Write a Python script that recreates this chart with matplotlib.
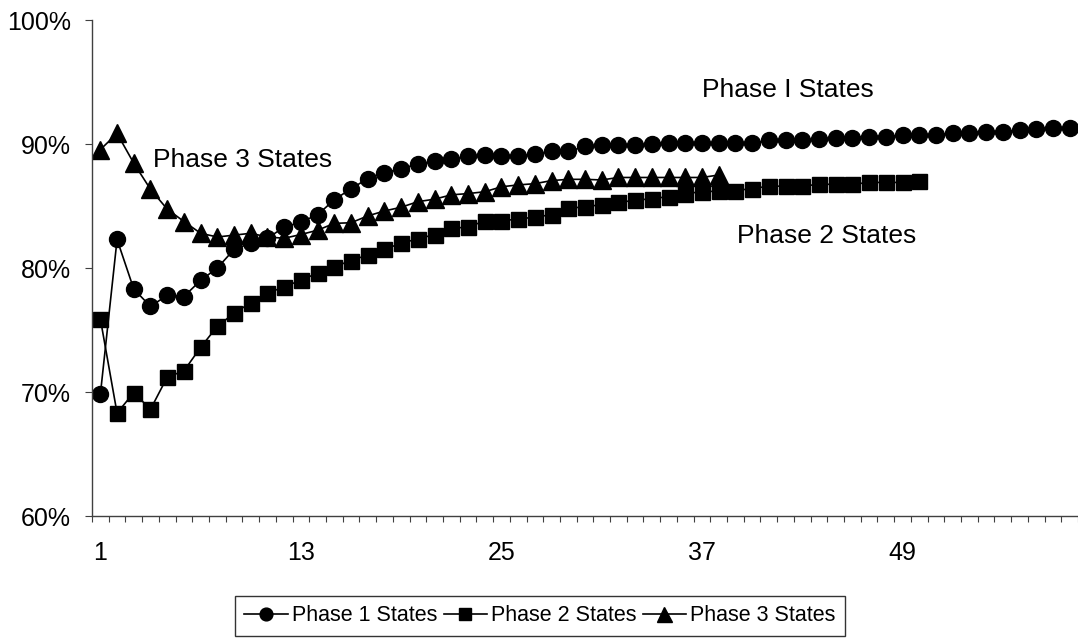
import matplotlib
matplotlib.use("Agg")
import matplotlib.pyplot as plt
from matplotlib.ticker import PercentFormatter

plt.rcParams["font.family"] = ["Liberation Sans", "DejaVu Sans"]

# ── Data (percent) ───────────────────────────────────────────────────────────
phase1 = [69.8, 82.3, 78.3, 76.9, 77.8, 77.7, 79.0, 80.0, 81.5, 82.0,
          82.4, 83.3, 83.7, 84.3, 85.5, 86.4, 87.2, 87.7, 88.0, 88.4,
          88.6, 88.8, 89.0, 89.1, 89.0, 89.0, 89.2, 89.4, 89.4, 89.8,
          89.9, 89.9, 89.9, 90.0, 90.1, 90.1, 90.1, 90.1, 90.05, 90.05,
          90.3, 90.3, 90.3, 90.4, 90.5, 90.5, 90.6, 90.6, 90.7, 90.7,
          90.7, 90.9, 90.9, 91.0, 91.0, 91.1, 91.2, 91.3, 91.3]
phase2 = [75.9, 68.3, 69.95, 68.6, 71.2, 71.7, 73.6, 75.3, 76.35, 77.2,
          77.95, 78.5, 79.0, 79.6, 80.1, 80.6, 81.05, 81.5, 82.0, 82.35,
          82.7, 83.2, 83.3, 83.8, 83.8, 83.95, 84.1, 84.3, 84.8, 84.95,
          85.1, 85.3, 85.45, 85.6, 85.75, 86.0, 86.15, 86.2, 86.25, 86.4,
          86.6, 86.6, 86.6, 86.75, 86.75, 86.75, 86.9, 86.9, 86.9, 87.05]
phase3 = [89.55, 90.85, 88.45, 86.35, 84.75, 83.75, 82.8, 82.5, 82.65, 82.8,
          82.5, 82.4, 82.7, 83.05, 83.6, 83.65, 84.2, 84.6, 84.9, 85.35,
          85.55, 85.9, 86.0, 86.15, 86.55, 86.7, 86.8, 87.05, 87.15, 87.15,
          87.1, 87.3, 87.3, 87.3, 87.3, 87.3, 87.3, 87.5]

series_labels = ["Phase 1 States", "Phase 2 States", "Phase 3 States"]
tick_labels = ["1", "13", "25", "37", "49"]

# ── Figure ────────────────────────────────────────────────────────────────────
fig = plt.figure(figsize=(10.78, 6.39), dpi=100)
ax = fig.add_axes([92 / 1078, 1 - 516 / 639, 1 - 92 / 1078, (516 - 20) / 639])

style = dict(color="black", linewidth=1.2)
ax.plot(range(1, len(phase1) + 1), phase1, marker="o", markersize=11.5,
        label=series_labels[0], **style)
ax.plot(range(1, len(phase2) + 1), phase2, marker="s", markersize=10.8,
        label=series_labels[1], **style)
ax.plot(range(1, len(phase3) + 1), phase3, marker="^", markersize=13.5,
        label=series_labels[2], **style)

ax.set_ylim(60, 100)
ax.set_xlim(0.5, 0.5 + 986 / 16.81)

ax.set_yticks([60, 70, 80, 90, 100])
ax.yaxis.set_major_formatter(PercentFormatter(xmax=100, decimals=0))
ax.tick_params(axis="y", direction="out", length=5, width=0.8, pad=10,
               labelsize=18, color="#404040")

# category boundaries get the tick marks, labels sit at category centres
ax.set_xticks([k + 0.5 for k in range(0, 60)])
ax.set_xticklabels([])
ax.tick_params(axis="x", which="major", direction="out", length=4, width=0.8,
               color="#404040")
ax.set_xticks([int(t) for t in tick_labels], minor=True)
ax.set_xticklabels(tick_labels, minor=True)
ax.tick_params(axis="x", which="minor", length=0, pad=18, labelsize=18)

for side in ["top", "right"]:
    ax.spines[side].set_visible(False)
for side in ["left", "bottom"]:
    ax.spines[side].set_color("#404040")
    ax.spines[side].set_linewidth(1.0)

# series annotations
ax.text(37.03, 93.8, "Phase I States", fontsize=19, ha="left", va="baseline")
ax.text(4.13, 88.17, "Phase 3 States", fontsize=19, ha="left", va="baseline")
ax.text(39.1, 82.04, "Phase 2 States", fontsize=19, ha="left", va="baseline")

leg = fig.legend(loc="center", bbox_to_anchor=(0.501, 0.036), ncol=3,
                 fontsize=15.5, frameon=True, fancybox=False, edgecolor="black",
                 handlelength=2.0, handletextpad=0.2, columnspacing=0.3,
                 borderpad=0.45, markerscale=0.8)
leg.get_frame().set_linewidth(1.0)

fig.savefig("out.png", dpi=100)
